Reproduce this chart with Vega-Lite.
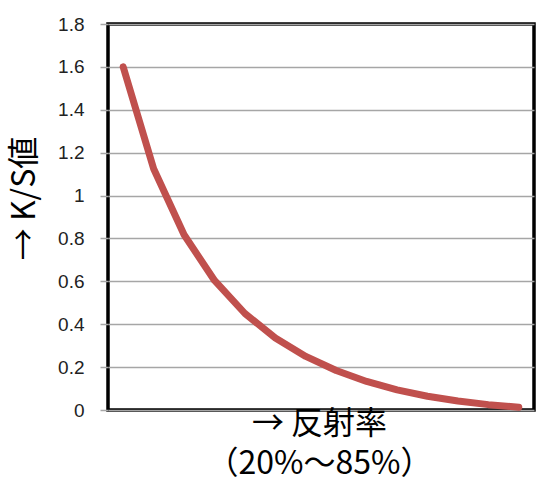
{
  "$schema": "https://vega.github.io/schema/vega-lite/v6.json",
  "width": 426,
  "height": 386,
  "autosize": {"type": "none"},
  "padding": {"left": 108, "top": 24, "right": 14, "bottom": 81},
  "background": "white",
  "data": {
    "values": [
      {"reflectance": 20, "ks": 1.6},
      {"reflectance": 25, "ks": 1.125},
      {"reflectance": 30, "ks": 0.817},
      {"reflectance": 35, "ks": 0.604},
      {"reflectance": 40, "ks": 0.45},
      {"reflectance": 45, "ks": 0.336},
      {"reflectance": 50, "ks": 0.25},
      {"reflectance": 55, "ks": 0.184},
      {"reflectance": 60, "ks": 0.133},
      {"reflectance": 65, "ks": 0.094},
      {"reflectance": 70, "ks": 0.064},
      {"reflectance": 75, "ks": 0.042},
      {"reflectance": 80, "ks": 0.025},
      {"reflectance": 85, "ks": 0.013}
    ]
  },
  "mark": {
    "type": "line",
    "color": "#C0504D",
    "strokeWidth": 7,
    "strokeCap": "round",
    "strokeJoin": "round"
  },
  "encoding": {
    "x": {
      "field": "reflectance",
      "type": "quantitative",
      "scale": {"domain": [17.5, 87.5], "nice": false, "zero": false},
      "axis": {
        "labels": false,
        "ticks": false,
        "domain": false,
        "grid": false,
        "title": ["→ 反射率", "（20%～85%）"],
        "titleFont": "Noto Sans CJK JP",
        "titleFontSize": 32,
        "titleFontWeight": "normal",
        "titleColor": "#000000",
        "titleBaseline": "middle",
        "titleAlign": "center",
        "titleX": 211,
        "titleY": 13,
        "titleLineHeight": 40
      }
    },
    "y": {
      "field": "ks",
      "type": "quantitative",
      "scale": {"domain": [0, 1.8], "nice": false},
      "axis": {
        "values": [0, 0.2, 0.4, 0.6, 0.8, 1, 1.2, 1.4, 1.6, 1.8],
        "format": "~g",
        "domain": false,
        "tickSize": 8,
        "tickWidth": 1.5,
        "tickColor": "#a6a6a6",
        "gridColor": "#a6a6a6",
        "gridWidth": 1.5,
        "labelFont": "Liberation Sans",
        "labelFontSize": 19,
        "labelColor": "#222222",
        "labelPadding": 16,
        "title": "→ K/S値",
        "titleFont": "Noto Sans CJK JP",
        "titleFontSize": 32,
        "titleFontWeight": "normal",
        "titleColor": "#000000",
        "titleAngle": -90,
        "titleAlign": "center",
        "titleBaseline": "middle",
        "titleX": -84,
        "titleY": 174
      }
    }
  },
  "config": {
    "view": {"stroke": "#000000", "strokeWidth": 3.5}
  }
}
